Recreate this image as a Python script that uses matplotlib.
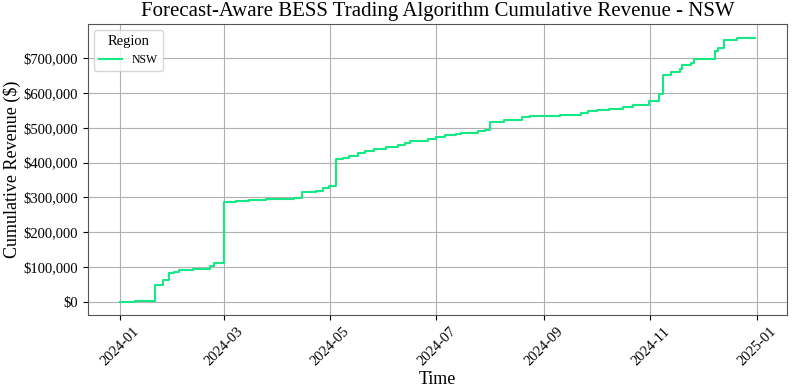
import matplotlib
matplotlib.use("Agg")
import matplotlib.pyplot as plt
import matplotlib.dates as mdates
import matplotlib.ticker as mticker
import pandas as pd

plt.rcParams['font.family'] = ['Liberation Serif', 'DejaVu Serif']

# step points: date the step happens, cumulative revenue after it
step_dates = [
    "2024-01-01", "2024-01-10", "2024-01-21", "2024-01-26", "2024-01-29",
    "2024-02-01", "2024-02-04", "2024-02-12", "2024-02-22", "2024-02-24",
    "2024-03-01", "2024-03-08", "2024-03-15", "2024-03-25", "2024-04-05",
    "2024-04-10", "2024-04-15", "2024-04-23", "2024-04-27", "2024-04-30",
    "2024-05-04", "2024-05-08", "2024-05-12", "2024-05-17", "2024-05-21",
    "2024-05-26", "2024-06-02", "2024-06-09", "2024-06-13", "2024-06-16",
    "2024-06-26", "2024-07-01", "2024-07-06", "2024-07-12", "2024-07-15",
    "2024-07-25", "2024-07-29", "2024-08-01", "2024-08-09", "2024-08-19",
    "2024-08-24", "2024-09-10", "2024-09-22", "2024-09-26", "2024-10-01",
    "2024-10-08", "2024-10-16", "2024-10-22", "2024-10-31", "2024-11-03",
    "2024-11-06", "2024-11-08", "2024-11-13", "2024-11-18", "2024-11-19",
    "2024-11-24", "2024-11-26", "2024-12-08", "2024-12-10", "2024-12-13",
    "2024-12-21", "2024-12-31",
]
cum_revenue = [
    0, 1000, 48000, 61000, 82000,
    85000, 89500, 95000, 101000, 110000,
    286000, 289000, 292000, 294000, 296000,
    299000, 314000, 319000, 327000, 334000,
    409000, 414000, 420000, 428000, 433000,
    438000, 444000, 450000, 455000, 461000,
    468000, 473000, 480000, 483000, 486000,
    491000, 495000, 517000, 523000, 531000,
    535000, 537000, 543000, 548000, 551000,
    554000, 559000, 567000, 576000, 578000,
    596000, 651000, 661000, 668000, 682000,
    688000, 698000, 722000, 729000, 754000,
    760000, 760000,
]

df = pd.DataFrame({"time": pd.to_datetime(step_dates), "revenue": cum_revenue})

fig, ax = plt.subplots(figsize=(7.93, 3.92), dpi=100)
fig.subplots_adjust(left=0.111, right=0.992, top=0.938, bottom=0.197)
ax.plot(df["time"], df["revenue"], drawstyle="steps-post", color="#17e886",
        linewidth=1.5, label="NSW")

ax.set_title("Forecast-Aware BESS Trading Algorithm Cumulative Revenue - NSW", fontsize=15)
ax.set_xlabel("Time", fontsize=13, labelpad=2)
ax.set_ylabel("Cumulative Revenue ($)", fontsize=13, labelpad=2)

ax.xaxis.set_major_locator(mdates.MonthLocator(bymonth=[1, 3, 5, 7, 9, 11]))
ax.xaxis.set_major_formatter(mdates.DateFormatter("%Y-%m"))
ax.yaxis.set_major_locator(mticker.MultipleLocator(100000))
ax.yaxis.set_major_formatter(mticker.FuncFormatter(lambda v, p: f"${v:,.0f}"))
ax.tick_params(axis="both", labelsize=10.5)
plt.setp(ax.get_xticklabels(), rotation=45)

ax.grid(True, color="#b0b0b0")
for s in ax.spines.values():
    s.set_color("#555555")

leg = ax.legend(title="Region", loc="upper left", fontsize=8.5, title_fontsize=10.5)

fig.savefig("out.png", dpi=100)
